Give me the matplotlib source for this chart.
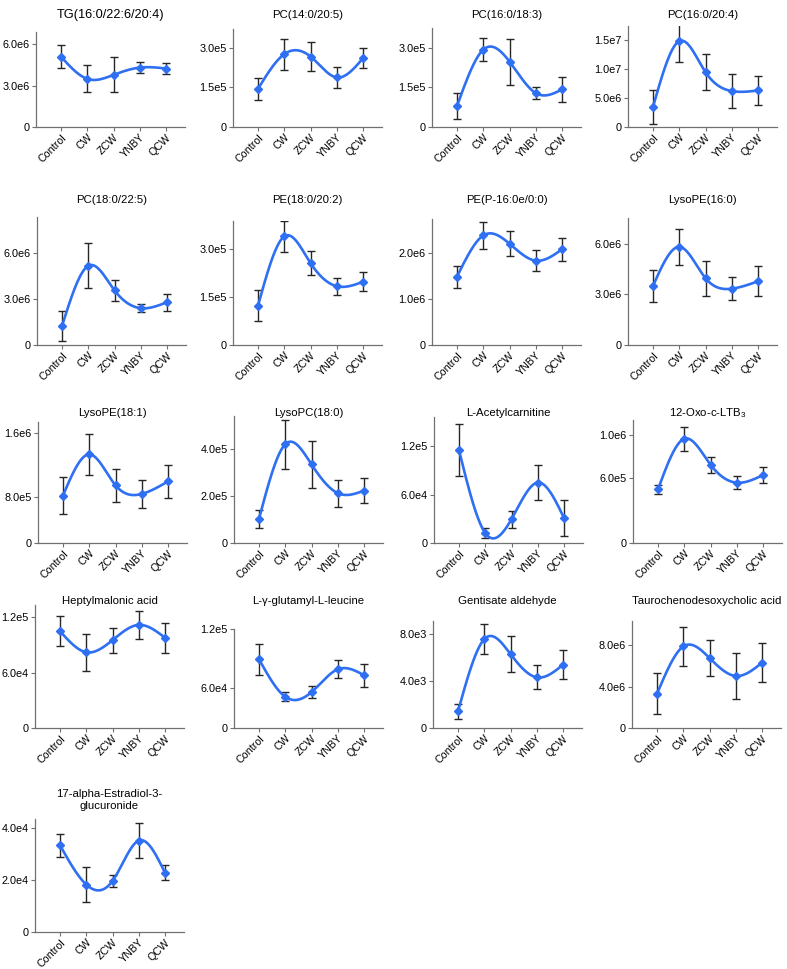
import numpy as np
import matplotlib
matplotlib.use('Agg')
import matplotlib.pyplot as plt
from matplotlib.ticker import FixedLocator, FixedFormatter

plt.rcParams['font.family'] = ['Liberation Sans', 'DejaVu Sans']
plt.rcParams['mathtext.fontset'] = 'custom'
plt.rcParams['mathtext.rm'] = 'Liberation Sans'
plt.rcParams['mathtext.it'] = 'Liberation Sans:italic'

# ========== data ==========
groups = ['Control', 'CW', 'ZCW', 'YNBY', 'QCW']

titles = ['TG(16:0/22:6/20:4)', 'PC(14:0/20:5)', 'PC(16:0/18:3)', 'PC(16:0/20:4)',
          'PC(18:0/22:5)', 'PE(18:0/20:2)', 'PE(P-16:0e/0:0)', 'LysoPE(16:0)',
          'LysoPE(18:1)', 'LysoPC(18:0)', 'L-Acetylcarnitine', '12-Oxo-c-LTB$_3$',
          'Heptylmalonic acid', 'L-γ-glutamyl-L-leucine', 'Gentisate aldehyde',
          'Taurochenodesoxycholic acid', '17-alpha-Estradiol-3-\nglucuronide']

tg_mean = [5.1e6, 3.49e6, 3.78e6, 4.31e6, 4.24e6]
tg_sd = [0.82e6, 0.98e6, 1.27e6, 0.38e6, 0.38e6]
pc14_mean = [1.44e5, 2.75e5, 2.66e5, 1.87e5, 2.6e5]
pc14_sd = [0.42e5, 0.58e5, 0.56e5, 0.39e5, 0.38e5]
pc1618_mean = [0.79e5, 2.92e5, 2.47e5, 1.28e5, 1.42e5]
pc1618_sd = [0.48e5, 0.43e5, 0.87e5, 0.22e5, 0.48e5]
pc1620_mean = [3.44e6, 1.48e7, 9.45e6, 6.19e6, 6.3e6]
pc1620_sd = [2.9e6, 3.6e6, 3.05e6, 3.0e6, 2.5e6]
pc18_mean = [1.23e6, 5.16e6, 3.56e6, 2.4e6, 2.79e6]
pc18_sd = [0.97e6, 1.47e6, 0.67e6, 0.25e6, 0.55e6]
pe18_mean = [1.22e5, 3.38e5, 2.55e5, 1.83e5, 1.97e5]
pe18_sd = [0.48e5, 0.47e5, 0.37e5, 0.27e5, 0.3e5]
pep16_mean = [1.49e6, 2.39e6, 2.21e6, 1.84e6, 2.09e6]
pep16_sd = [0.24e6, 0.3e6, 0.27e6, 0.23e6, 0.25e6]
lpe16_mean = [3.5e6, 5.82e6, 3.96e6, 3.34e6, 3.78e6]
lpe16_sd = [0.94e6, 1.07e6, 1.03e6, 0.67e6, 0.9e6]
lpe181_mean = [6.9e5, 1.29e6, 8.39e5, 7.14e5, 8.97e5]
lpe181_sd = [2.65e5, 2.95e5, 2.4e5, 2.0e5, 2.4e5]
lpc18_mean = [1.02e5, 4.2e5, 3.34e5, 2.12e5, 2.23e5]
lpc18_sd = [0.4e5, 1.04e5, 1.0e5, 0.58e5, 0.53e5]
acar_mean = [1.15e5, 1.23e4, 2.96e4, 7.48e4, 3.08e4]
acar_sd = [3.2e4, 0.64e4, 1.05e4, 2.2e4, 2.2e4]
oxo_mean = [4.95e5, 9.63e5, 7.23e5, 5.57e5, 6.28e5]
oxo_sd = [0.44e5, 1.1e5, 0.72e5, 0.6e5, 0.7e5]
hept_mean = [1.047e5, 8.19e4, 9.5e4, 1.115e5, 9.76e4]
hept_sd = [1.6e4, 2.0e4, 1.35e4, 1.5e4, 1.6e4]
glu_mean = [8.34e4, 3.78e4, 4.35e4, 7.12e4, 6.39e4]
glu_sd = [1.9e4, 0.53e4, 0.7e4, 1.1e4, 1.4e4]
gen_mean = [1.41e3, 7.58e3, 6.3e3, 4.32e3, 5.4e3]
gen_sd = [0.65e3, 1.26e3, 1.53e3, 1.03e3, 1.22e3]
tau_mean = [3.31e6, 7.9e6, 6.78e6, 5.04e6, 6.33e6]
tau_sd = [2.0e6, 1.86e6, 1.77e6, 2.2e6, 1.87e6]
est_mean = [3.35e4, 1.83e4, 1.97e4, 3.53e4, 2.28e4]
est_sd = [0.44e4, 0.68e4, 0.22e4, 0.67e4, 0.29e4]

means = [tg_mean, pc14_mean, pc1618_mean, pc1620_mean, pc18_mean, pe18_mean, pep16_mean,
         lpe16_mean, lpe181_mean, lpc18_mean, acar_mean, oxo_mean, hept_mean, glu_mean,
         gen_mean, tau_mean, est_mean]
sds = [tg_sd, pc14_sd, pc1618_sd, pc1620_sd, pc18_sd, pe18_sd, pep16_sd, lpe16_sd,
       lpe181_sd, lpc18_sd, acar_sd, oxo_sd, hept_sd, glu_sd, gen_sd, tau_sd, est_sd]

# y axis ticks (label values)
yticks = [[0, 3e6, 6e6], [0, 1.5e5, 3e5], [0, 1.5e5, 3e5], [0, 5e6, 1e7, 1.5e7],
          [0, 3e6, 6e6], [0, 1.5e5, 3e5], [0, 1e6, 2e6], [0, 3e6, 6e6],
          [0, 8e5, 1.6e6], [0, 2e5, 4e5], [0, 6e4, 1.2e5], [0, 6e5, 1e6],
          [0, 6e4, 1.2e5], [0, 6e4, 1.2e5], [0, 4e3, 8e3], [0, 4e6, 8e6],
          [0, 2e4, 4e4]]
ytop = [6.89e6, 3.70e5, 3.74e5, 1.74e7, 8.34e6, 3.86e5, 2.75e6, 7.53e6, 1.76e6, 5.4e5,
        1.56e5, 1.136e6, 1.33e5, 1.2e5, 9.13e3, 1.037e7, 4.36e4]
# two panels in the source have their middle tick drawn off its value
tick_pos_fix = {8: [0, 6.65e5, 1.6e6], 13: [0, 4.88e4, 1.2e5]}

# ========== layout (pixels) ==========
W, H = 787, 969
left_px = [36, 233, 432, 628, 37, 233, 432, 628, 38, 234, 434, 633, 35, 234, 433, 632, 35]
top_px = [32, 29, 28, 26, 217, 221, 219, 218, 422, 416, 417, 420, 605, 629, 621, 621, 819]
bot_px = [127] * 4 + [345] * 4 + [543] * 4 + [728] * 4 + [932]
title_y = [15] * 4 + [200] * 4 + [413] * 4 + [601] * 4 + [800]
title_size = [9.2] + [8.2] * 16
w_px = 149

line_c = '#2f6ff2'
spine_c = '#707070'


def fmt(v):
    if v == 0:
        return '0'
    return f'{v:.1e}'.replace('e+0', 'e').replace('e-0', 'e-')


def nat_spline(y, n=300):
    # natural cubic spline through equally spaced points (h = 1)
    y = np.asarray(y, float)
    k = len(y)
    A = np.zeros((k, k)); b = np.zeros(k)
    A[0, 0] = A[-1, -1] = 1
    for i in range(1, k - 1):
        A[i, i - 1], A[i, i], A[i, i + 1] = 1, 4, 1
        b[i] = 6 * (y[i + 1] - 2 * y[i] + y[i - 1])
    M = np.linalg.solve(A, b)
    xs = np.linspace(0, k - 1, n)
    i = np.minimum(xs.astype(int), k - 2)
    t = xs - i
    ys = ((1 - t) * y[i] + t * y[i + 1]
          + ((1 - t) ** 3 - (1 - t)) * M[i] / 6 + (t ** 3 - t) * M[i + 1] / 6)
    return xs, ys


fig = plt.figure(figsize=(W / 100, H / 100), dpi=100)
x = np.arange(len(groups))

for k in range(len(titles)):
    rect = [left_px[k] / W, 1 - bot_px[k] / H, w_px / W, (bot_px[k] - top_px[k]) / H]
    ax = fig.add_axes(rect)
    m = np.array(means[k]); s = np.array(sds[k])

    ax.errorbar(x, m, yerr=s, fmt='none', ecolor='#262626', elinewidth=1.0,
                capsize=2.9, capthick=1.0, zorder=2)
    xs, ys = nat_spline(m)
    ax.plot(xs, ys, color=line_c, lw=1.9, zorder=3, solid_capstyle='round')
    ax.plot(x, m, 'D', color=line_c, ms=3.6, zorder=4)

    ax.set_xlim(-0.95, 4.72)
    ax.set_ylim(0, ytop[k])
    ax.set_xticks(x)
    ax.set_xticklabels(groups, rotation=45, ha='right', rotation_mode='anchor', fontsize=7.7)
    pos = tick_pos_fix.get(k, yticks[k])
    ax.yaxis.set_major_locator(FixedLocator(pos))
    ax.yaxis.set_major_formatter(FixedFormatter([fmt(v) for v in yticks[k]]))
    ax.tick_params(axis='y', labelsize=7.8, length=3, width=0.8, color=spine_c, pad=1.5)
    ax.tick_params(axis='x', length=3, width=0.8, color=spine_c, pad=0.8)
    for sp in ['top', 'right']:
        ax.spines[sp].set_visible(False)
    for sp in ['left', 'bottom']:
        ax.spines[sp].set_color(spine_c)
        ax.spines[sp].set_linewidth(0.9)

    fig.text((left_px[k] + w_px / 2) / W, 1 - title_y[k] / H, titles[k],
             ha='center', va='center', fontsize=title_size[k], linespacing=1.3)

fig.savefig('out.png', dpi=100)
